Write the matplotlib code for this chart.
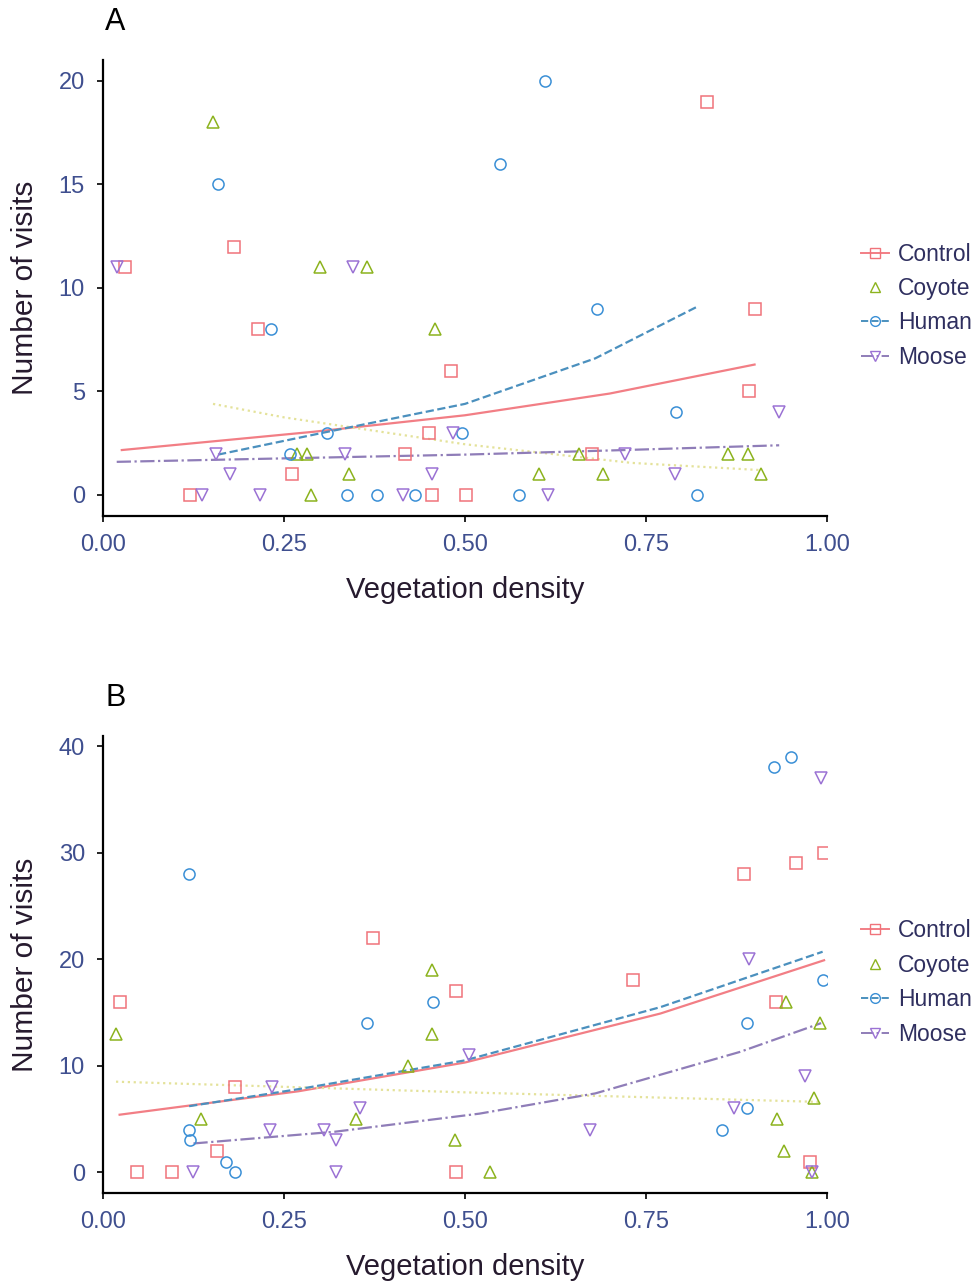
import matplotlib.pyplot as plt
from matplotlib.lines import Line2D

# Liberation Sans looks closest to the Arial of the original
plt.rcParams['font.family'] = ['Liberation Sans', 'DejaVu Sans']

groups = ['Control', 'Coyote', 'Human', 'Moose']

# ---- panel A : points ----
a_control_x = [0.030, 0.181, 0.214, 0.481, 0.450, 0.417, 0.261, 0.120, 0.454, 0.501, 0.834, 0.900, 0.893, 0.676]
a_control_y = [11, 12, 8, 6, 3, 2, 1, 0, 0, 0, 19, 9, 5, 2]
a_coyote_x = [0.152, 0.300, 0.364, 0.459, 0.268, 0.282, 0.340, 0.287, 0.658, 0.863, 0.891, 0.602, 0.690, 0.909]
a_coyote_y = [18, 11, 11, 8, 2, 2, 1, 0, 2, 2, 2, 1, 1, 1]
a_human_x = [0.159, 0.232, 0.309, 0.496, 0.258, 0.337, 0.378, 0.431, 0.610, 0.548, 0.683, 0.791, 0.575, 0.821]
a_human_y = [15, 8, 3, 3, 2, 0, 0, 0, 20, 16, 9, 4, 0, 0]
a_moose_x = [0.019, 0.345, 0.483, 0.156, 0.334, 0.175, 0.454, 0.137, 0.217, 0.414, 0.934, 0.721, 0.790, 0.614]
a_moose_y = [11, 11, 3, 2, 2, 1, 1, 0, 0, 0, 4, 2, 1, 0]

# ---- panel A : fitted curves ----
a_control_fx = [0.026, 0.29, 0.50, 0.70, 0.90]
a_control_fy = [2.17, 3.05, 3.85, 4.9, 6.3]
a_coyote_fx = [0.152, 0.25, 0.50, 0.73, 0.909]
a_coyote_fy = [4.4, 3.75, 2.45, 1.55, 1.2]
a_human_fx = [0.159, 0.31, 0.50, 0.68, 0.821]
a_human_fy = [1.95, 3.05, 4.4, 6.6, 9.1]
a_moose_fx = [0.019, 0.50, 0.72, 0.934]
a_moose_fy = [1.6, 1.95, 2.17, 2.4]

# ---- panel B : points ----
b_control_x = [0.373, 0.488, 0.023, 0.182, 0.157, 0.047, 0.096, 0.488, 0.996, 0.957, 0.885, 0.732, 0.930, 0.977]
b_control_y = [22, 17, 16, 8, 2, 0, 0, 0, 30, 29, 28, 18, 16, 1]
b_coyote_x = [0.455, 0.018, 0.455, 0.422, 0.135, 0.350, 0.486, 0.943, 0.991, 0.982, 0.931, 0.940, 0.534, 0.979]
b_coyote_y = [19, 13, 13, 10, 5, 5, 3, 16, 14, 7, 5, 2, 0, 0]
b_human_x = [0.119, 0.456, 0.364, 0.119, 0.120, 0.170, 0.182, 0.950, 0.927, 0.994, 0.890, 0.890, 0.855]
b_human_y = [28, 16, 14, 4, 3, 1, 0, 39, 38, 18, 14, 6, 4]
b_moose_x = [0.506, 0.233, 0.355, 0.231, 0.305, 0.322, 0.125, 0.322, 0.992, 0.893, 0.970, 0.871, 0.673, 0.979]
b_moose_y = [11, 8, 6, 4, 4, 3, 0, 0, 37, 20, 9, 6, 4, 0]

# ---- panel B : fitted curves ----
b_control_fx = [0.023, 0.27, 0.50, 0.77, 0.996]
b_control_fy = [5.4, 7.6, 10.3, 14.9, 19.9]
b_coyote_fx = [0.018, 0.50, 0.991]
b_coyote_fy = [8.5, 7.5, 6.6]
b_human_fx = [0.119, 0.27, 0.50, 0.77, 0.994]
b_human_fy = [6.2, 7.8, 10.5, 15.5, 20.7]
b_moose_fx = [0.125, 0.32, 0.52, 0.68, 0.88, 0.992]
b_moose_fy = [2.7, 3.8, 5.5, 7.4, 11.3, 14.0]

xtick_vals = [0, 0.25, 0.5, 0.75, 1.0]
xtick_labels = ['0.00', '0.25', '0.50', '0.75', '1.00']
a_yticks = [0, 5, 10, 15, 20]
b_yticks = [0, 10, 20, 30, 40]

colors = {'Control': '#F0737A', 'Coyote': '#8CB31E', 'Human': '#3A8FD6', 'Moose': '#9B72D4'}
line_colors = {'Control': '#F27E85', 'Coyote': '#E4E29A', 'Human': '#4B90BE', 'Moose': '#8F7DB8'}
markers = {'Control': 's', 'Coyote': '^', 'Human': 'o', 'Moose': 'v'}
styles = {'Control': '-', 'Coyote': ':', 'Human': '--', 'Moose': '-.'}

tick_col = '#3F4F8F'

panels = [
    ('A', [0.1055, 0.5987, 0.7418, 0.3544], (-1.0, 21.0), a_yticks,
     {'Control': (a_control_x, a_control_y, a_control_fx, a_control_fy),
      'Coyote': (a_coyote_x, a_coyote_y, a_coyote_fx, a_coyote_fy),
      'Human': (a_human_x, a_human_y, a_human_fx, a_human_fy),
      'Moose': (a_moose_x, a_moose_y, a_moose_fx, a_moose_fy)}),
    ('B', [0.1055, 0.0716, 0.7418, 0.3556], (-1.95, 40.95), b_yticks,
     {'Control': (b_control_x, b_control_y, b_control_fx, b_control_fy),
      'Coyote': (b_coyote_x, b_coyote_y, b_coyote_fx, b_coyote_fy),
      'Human': (b_human_x, b_human_y, b_human_fx, b_human_fy),
      'Moose': (b_moose_x, b_moose_y, b_moose_fx, b_moose_fy)}),
]

fig = plt.figure(figsize=(9.76, 12.85), dpi=100)

for tag, rect, ylim, yticks, data in panels:
    ax = fig.add_axes(rect)
    for g in groups:
        px, py, fx, fy = data[g]
        ax.plot(fx, fy, linestyle=styles[g], color=line_colors[g], lw=1.6, zorder=2)
        ax.plot(px, py, linestyle='none', marker=markers[g], ms=8, mfc='none',
                mec=colors[g], mew=1.1, zorder=3)
    ax.set_xlim(0, 1)
    ax.set_ylim(*ylim)
    ax.set_xticks(xtick_vals)
    ax.set_xticklabels(xtick_labels)
    ax.set_yticks(yticks)
    ax.tick_params(labelsize=17, labelcolor=tick_col, length=4, width=1.2, pad=9)
    for s in ['top', 'right']:
        ax.spines[s].set_visible(False)
    for s in ['left', 'bottom']:
        ax.spines[s].set_linewidth(1.6)
    ax.set_xlabel('Vegetation density', fontsize=21, color='#261a2e', va='center')
    ax.xaxis.set_label_coords(0.5, -0.163)
    ax.set_ylabel('Number of visits', fontsize=21.5, color='#261a2e', va='center')
    ax.yaxis.set_label_coords(-0.108, 0.5)

    handles = [Line2D([], [], linestyle=styles[g] if g != 'Coyote' else 'none',
                      color=line_colors[g], lw=1.4, marker=markers[g], ms=7,
                      mfc='none', mec=colors[g], mew=1.0) for g in groups]
    ax.legend(handles, groups, loc='center left', bbox_to_anchor=(1.035, 0.461),
              frameon=False, fontsize=16.5, handlelength=1.2, handletextpad=0.4,
              labelspacing=0.5, borderaxespad=0, labelcolor='#2F2F5F')

fig.text(0.118, 0.983, 'A', fontsize=22, ha='center', va='center')
fig.text(0.118, 0.457, 'B', fontsize=22, ha='center', va='center')

fig.savefig('out.png', dpi=100)
